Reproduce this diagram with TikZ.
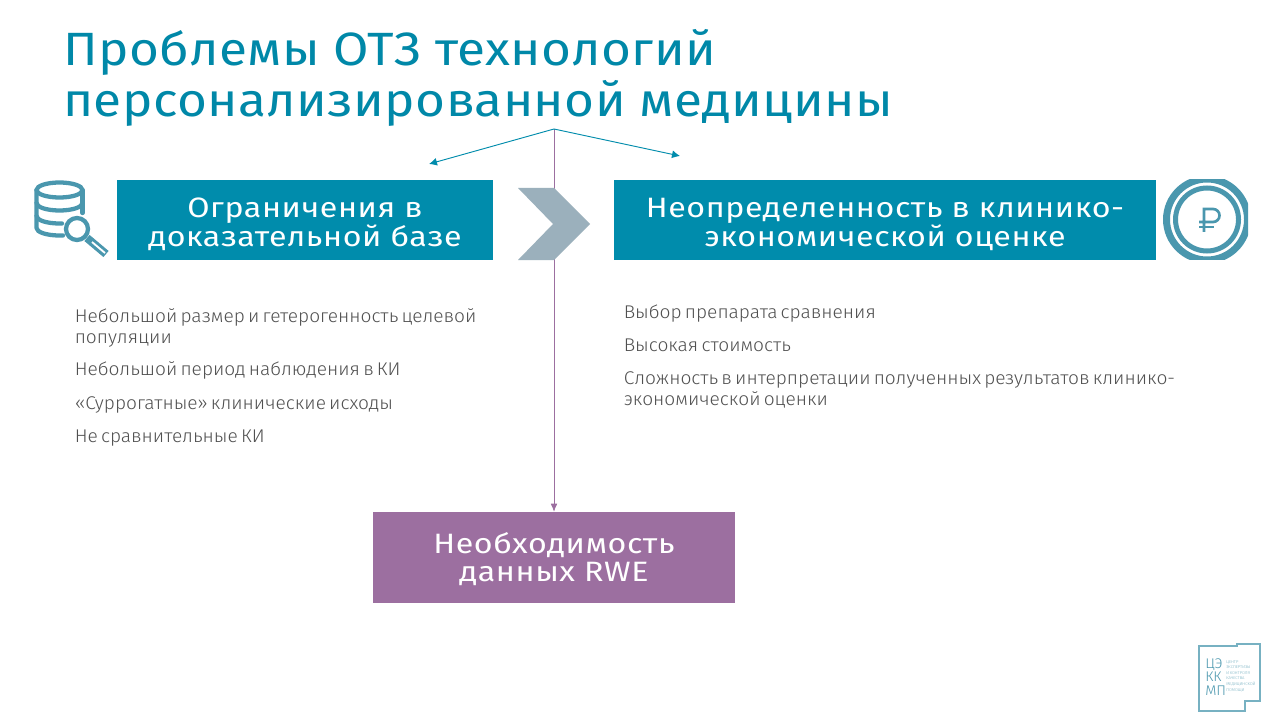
\documentclass[tikz,border=0pt]{standalone}
\usepackage{fontspec}
\setmainfont{Fira Sans}[UprightFont=* Light,WordSpace=0.6,FakeStretch=1.04]
\newfontfamily\headfont[LetterSpace=0.8,FakeStretch=1.1]{Fira Sans}
\newfontfamily\boxfont[LetterSpace=2,FakeStretch=1.15]{Fira Sans}
\usetikzlibrary{arrows.meta}
\definecolor{teal1}{HTML}{008CAC}
\definecolor{titlec}{HTML}{0088A8}
\definecolor{icon}{HTML}{4A97AE}
\definecolor{purp}{HTML}{9C6FA0}
\definecolor{chev}{HTML}{9BB0BC}
\definecolor{body}{HTML}{505050}
\newcommand\dnbox{\rule{0pt}{20.5pt}}
\newcommand\dnrwe{\rule{0pt}{18pt}}
\tikzset{
  titletext/.style={anchor=west,inner sep=0pt,text=titlec,font=\headfont\fontsize{35}{35}\selectfont},
  headbox/.style={fill=teal1,text=white,align=center,inner sep=0pt,font=\boxfont\fontsize{21}{20.5}\selectfont},
  rwebox/.style={fill=purp,text=white,align=center,inner sep=0pt,font=\boxfont\fontsize{21}{21.5}\selectfont},
  bodytext/.style={anchor=base west,inner sep=0pt,text=body,align=left,font=\fontsize{13.8}{15.2}\selectfont},
  tealarrow/.style={draw=teal1,line width=0.7pt,-{Latex[length=6pt,width=6pt]}},
  purparrow/.style={draw=purp,line width=0.6pt,-{Latex[length=6pt,width=5pt]}},
  iconline/.style={draw=icon,line width=3.2pt,line cap=round,line join=round}
}
\begin{document}
\begin{tikzpicture}[x=0.75pt,y=-0.75pt]
\useasboundingbox (0,0) rectangle (1280,720);
\fill[white] (0,0) rectangle (1280,720);
\node[titletext] (t1) at (63,52) {Проблемы ОТЗ технологий};
\node[titletext] (t2) at (63,103) {персонализированной медицины};

\coordinate (apex) at (554,129);
\coordinate (endL) at (429,164);
\coordinate (endR) at (680,156);
\node[rwebox,minimum width=271.5pt,minimum height=68.25pt] (rwe) at (554,557.5) {\dnrwe Необходимость\\данных RWE};
\draw[purparrow] (apex) -- (rwe.north);
\draw[tealarrow] (apex) -- (endL);
\draw[tealarrow] (apex) -- (endR);

\fill[chev] (518,188) -- (554,188) -- (590,224) -- (554,260) -- (518,260) -- (553,224) -- cycle;

\node[headbox,minimum width=282pt,minimum height=60pt] (bl) at (305,220) {\dnbox Ограничения в\\доказательной базе};
\node[headbox,minimum width=406.5pt,minimum height=60pt] (br) at (885,220) {\dnbox Неопределенность в клинико-\\экономической оценке};

\node[bodytext] (l1) at (74.5,343) {Небольшой размер и гетерогенность целевой\\популяции};
\node[bodytext] (l2) at (74.5,375) {Небольшой период наблюдения в КИ};
\node[bodytext] (l3) at (74.5,409) {«Суррогатные» клинические исходы};
\node[bodytext] (l4) at (74.5,442) {Не сравнительные КИ};
\node[bodytext] (r1) at (623.5,318) {Выбор препарата сравнения};
\node[bodytext] (r2) at (623.5,351) {Высокая стоимость};
\node[bodytext] (r3) at (623.5,405) {Сложность в интерпретации полученных результатов клинико-\\экономической оценки};

% database icon
\begin{scope}[iconline]
\draw (36.5,190) arc[x radius=23,y radius=7.5,start angle=180,end angle=-180];
\draw (36.5,190) -- (36.5,228) arc[x radius=23,y radius=7.5,start angle=180,end angle=90] -- (63,235.5);
\draw (82.5,190) -- (82.5,213);
\draw (36.5,203) arc[x radius=23,y radius=7.5,start angle=180,end angle=0];
\draw (36.5,216) arc[x radius=23,y radius=7.5,start angle=180,end angle=90] -- (62,223.5);
\draw (77,229) circle[radius=11];
\end{scope}
\draw[icon,line width=6pt] (87,238) -- (106,254);
\draw[white,line width=1.4pt] (92,242) -- (105,253);

% rouble icon
\begin{scope}
\clip (1150,180) rectangle (1248,259);
\draw[icon,line width=5.25pt] (1207,219.5) circle[radius=40.5];
\draw[icon,line width=3.75pt] (1207,219.5) circle[radius=31.5];
\end{scope}
\draw[icon,line width=2pt] (1204,232) -- (1204,209) -- (1213,209) arc[radius=6.5,start angle=-90,end angle=90] -- (1199,222);
\draw[icon,line width=2pt] (1199,227) -- (1214,227);

% logo
\draw[icon!75!white,line width=1pt] (1199,646) -- (1237,646) -- (1237,644) -- (1260,644) -- (1260,701) -- (1245,701) -- (1245,711) -- (1199,711) -- cycle;
\node[anchor=west,inner sep=0pt,align=left,text=icon,font=\fontsize{10.5}{10}\selectfont] (lg) at (1205,677) {ЦЭ\\КК\\МП};
\node[anchor=west,inner sep=0pt,align=left,text=icon!80!white,font=\fontsize{3}{4.2}\selectfont] (lgt) at (1226,676) {ЦЕНТР\\ЭКСПЕРТИЗЫ\\И КОНТРОЛЯ\\КАЧЕСТВА\\МЕДИЦИНСКОЙ\\ПОМОЩИ};
\end{tikzpicture}
\end{document}
